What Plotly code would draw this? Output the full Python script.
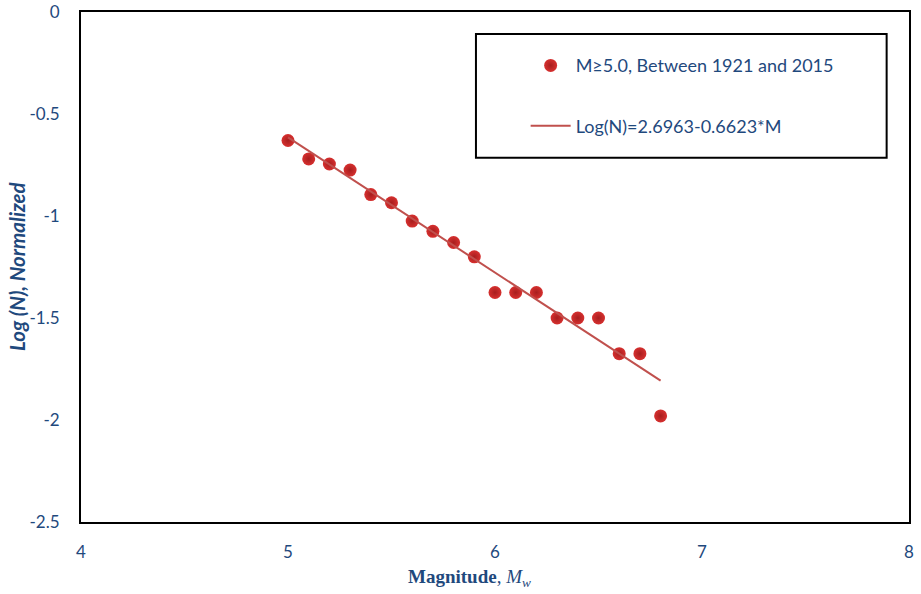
import plotly.graph_objects as go

# ---- data ----
magnitude = [5.0, 5.1, 5.2, 5.3, 5.4, 5.5, 5.6, 5.7, 5.8, 5.9,
             6.0, 6.1, 6.2, 6.3, 6.4, 6.5, 6.6, 6.7, 6.8]
log_n = [-0.63, -0.72, -0.745, -0.775, -0.895, -0.935, -1.025, -1.075, -1.13, -1.2,
         -1.375, -1.375, -1.375, -1.5, -1.5, -1.5, -1.675, -1.675, -1.98]
fit_x = [5.0, 6.8]
fit_y = [-0.615, -1.807]
x_ticks = [4, 5, 6, 7, 8]
y_ticks = [0, -0.5, -1, -1.5, -2, -2.5]
y_tick_labels = ["0", "-0.5", "-1", "-1.5", "-2", "-2.5"]

BLUE = "#1F497D"
FONT = "Lato"

fig = go.Figure()
fig.add_trace(go.Scatter(
    x=magnitude, y=log_n, mode="markers",
    name="M≥5.0, Between 1921 and 2015",
    legendgroup="a",
    marker=dict(size=13, color="#D6302F",
                gradient=dict(type="radial", color="#A81E1E"),
                line=dict(width=0)),
))
fig.add_trace(go.Scatter(
    x=fit_x, y=fit_y, mode="lines",
    name="Log(N)=2.6963-0.6623*M",
    legendgroup="b",
    line=dict(color="#C0504D", width=2),
))

fig.update_layout(
    width=921, height=594,
    margin=dict(l=81, r=12, t=12, b=72, autoexpand=False),
    plot_bgcolor="white", paper_bgcolor="white",
    font=dict(family=FONT, color=BLUE, size=16),
    showlegend=True,
    legend=dict(
        x=0.537, y=0.931, xanchor="left", yanchor="top",
        bgcolor="rgba(0,0,0,0)", borderwidth=0,
        font=dict(family=FONT, size=18, color=BLUE),
        traceorder="grouped", tracegroupgap=34,
        itemwidth=40,
    ),
    shapes=[dict(type="rect", xref="paper", yref="paper",
                 x0=0.477, x1=0.973, y0=0.714, y1=0.957,
                 line=dict(color="black", width=2), fillcolor="rgba(0,0,0,0)")],
    annotations=[
        dict(text="<b>Magnitude</b>, <i>M<sub>w</sub></i>", xref="paper", yref="paper",
             x=(469 - 81) / 828, y=-(578 - 522) / 510, xanchor="center", yanchor="middle",
             showarrow=False,
             font=dict(family="Liberation Serif", size=19, color=BLUE)),
        dict(text="<b><i>Log (N), Normalized</i></b>", xref="paper", yref="paper",
             x=-(81 - 17) / 828, y=0.5, xanchor="center", yanchor="middle",
             textangle=-90, showarrow=False,
             font=dict(family=FONT, size=20.5, color=BLUE)),
    ],
)
fig.update_xaxes(
    range=[4, 8], tickvals=x_ticks, ticktext=[str(v) for v in x_ticks],
    showgrid=False, zeroline=False, showline=True, mirror=True,
    linecolor="black", linewidth=2, ticks="", ticklabelstandoff=14,
    automargin=False,
    tickfont=dict(family=FONT, size=17, color=BLUE),
)
fig.update_yaxes(
    range=[-2.5, 0], tickvals=y_ticks, ticktext=y_tick_labels,
    showgrid=False, zeroline=False, showline=True, mirror=True,
    linecolor="black", linewidth=2, ticks="", ticklabelstandoff=16,
    automargin=False,
    tickfont=dict(family=FONT, size=17, color=BLUE),
)

fig.write_html("out.html")
